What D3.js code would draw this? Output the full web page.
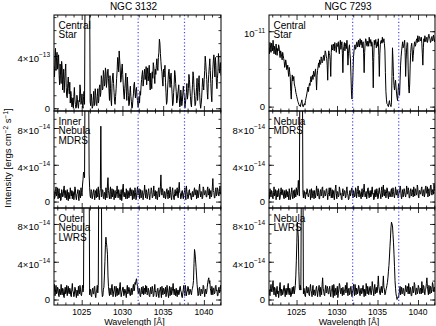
<!DOCTYPE html>
<html>
<head>
<meta charset="utf-8">
<script src="https://cdn.jsdelivr.net/npm/d3@7"></script>
<style>
  body { margin: 0; background: #fff; }
  svg { display: block; font-family: "Liberation Sans", Arial, Helvetica, sans-serif; }
</style>
</head>
<body>
<div id="chart"></div>
<script>
// wavelength grid of every spectrum: 1021.6 + i * 0.0625 A
const waveStart = 1021.6;
const waveStep = 0.0625;
const waveRange = [1021.6, 1042.1];
const oviLines = [1031.93, 1037.62];
const xMajorTicks = [1025, 1030, 1035, 1040];

// NGC 3132 central star, units of 1e-13
const star3132 = [
  3.2,2.4, 3.8,4.6, 2.9,3.9, 4.3,3.0, 3.5,4.1, 2.6,1.8, 3.4,2.5, 1.9,3.6, 3.1,1.4, 2.2,3.0, 1.2,2.1, 2.8,3.4, 1.6,0.9, 0.8,1.9, 2.4,1.5,
  1.1,2.0, 0.4,1.3, 0.9,0.1, 0.2,0.8, 0.0,0.9, 1.6,0.7, 0.3,0.0, 0.1,1.0, 0.7,0.2, 0.0,0.6, 0.5,1.8, 1.4,0.3, 0.6,1.1, 0.2,0.0, 0.9,1.3,
  0.3,9.0, 9.0,9.0, 9.0,9.0, 9.0,9.0, 9.0,9.0, 9.0,0.5, 0.2,1.1, 0.8,0.0, 0.1,0.6, 1.3,0.2, 0.4,1.5, 1.0,0.3, 0.2,0.9, 1.5,0.4, 0.6,1.6,
  1.8,0.9, 1.2,2.5, 2.2,1.4, 1.5,2.9, 2.6,1.7, 1.9,3.1, 2.8,1.6, 2.1,2.7, 3.0,2.3, 1.4,0.6, 2.5,1.5, 0.6,0.2, 1.9,2.4, 2.7,1.9, 1.2,0.5,
  0.3,0.9, 1.5,2.3, 2.9,3.9, 3.6,2.8, 4.4,3.7, 3.1,2.0, 2.2,3.0, 3.4,2.6, 1.8,1.1, 0.7,1.5, 2.0,2.7, 1.3,0.6, 2.4,1.7, 1.0,0.2, 0.3,1.2,
  1.7,0.9, 0.5,0.0, 0.1,0.7, 1.1,1.8, 2.0,1.2, 0.8,1.4, 1.6,0.9, 0.6,0.1, 0.2,0.9, 0.4,1.3, 1.0,1.7, 2.2,2.6, 2.9,1.7, 2.1,2.6, 3.0,2.2,
  2.4,3.2, 1.8,2.6, 3.1,2.1, 2.5,3.3, 2.0,1.4, 2.7,2.0, 1.5,2.8, 2.3,3.5, 3.2,2.5, 1.9,3.0, 2.6,3.3, 3.8,3.1, 2.9,3.9, 4.3,5.3, 5.0,4.2,
  3.6,3.0, 2.8,2.1, 1.7,3.0, 2.4,2.9, 3.3,2.0, 1.2,0.3, 0.5,1.4, 2.1,2.8, 3.0,2.2, 1.6,2.4, 2.7,1.8, 1.1,0.2, 0.4,1.2, 1.8,2.9, 2.6,1.9,
  1.3,0.4, 0.6,1.1, 1.4,1.8, 0.8,0.1, 0.2,1.4, 1.0,0.2, 0.5,1.1, 1.7,1.2, 0.9,0.0, 0.3,0.8, 1.2,1.9, 0.7,1.0, 1.5,2.6, 2.2,1.5, 0.9,0.3,
  0.1,1.0, 1.8,2.8, 2.5,1.6, 1.0,0.2, 0.3,0.9, 1.6,2.3, 0.6,1.3, 2.0,2.5, 1.2,0.4, 0.0,0.3, 0.8,1.6, 2.3,1.9, 1.4,2.2, 2.9,4.0, 3.5,2.8,
  2.2,1.2, 0.7,1.9, 2.6,3.2, 3.8,2.9, 1.9,1.0, 0.5,2.2, 3.0,3.7, 4.1,3.4, 2.4,3.9, 3.3,2.0, 1.5,2.3, 2.8,4.2, 3.6,2.7, 3.0,3.5, 2.5
];

// NGC 7293 central star, units of 1e-11
const star7293 = [
  0.78,0.70, 0.85,0.79, 0.72,0.84, 0.80,0.74, 0.88,0.78, 0.70,0.80, 0.76,0.69, 0.83,0.75, 0.68,0.77, 0.74,0.82, 0.79,0.70, 0.65,0.74, 0.71,0.66, 0.62,0.72, 0.68,0.64,
  0.60,0.52, 0.55,0.62, 0.58,0.49, 0.50,0.55, 0.46,0.40, 0.52,0.45, 0.40,0.20, 0.10,0.30, 0.42,0.34, 0.36,0.40, 0.30,0.27, 0.24,0.19, 0.16,0.13, 0.10,0.07, 0.05,0.03,
  0.01,0.02, 0.00,0.04, 0.06,0.09, 0.02,0.00, 0.00,0.03, 0.04,0.02, 0.08,0.11, 0.14,0.18, 0.22,0.26, 0.20,0.27, 0.31,0.28, 0.36,0.40, 0.33,0.38, 0.42,0.36, 0.47,0.44,
  0.40,0.46, 0.50,0.38, 0.22,0.41, 0.48,0.53, 0.58,0.52, 0.62,0.57, 0.56,0.66, 0.64,0.58, 0.60,0.65, 0.68,0.61, 0.66,0.74, 0.72,0.67, 0.64,0.55, 0.35,0.62, 0.74,0.70,
  0.68,0.60, 0.40,0.72, 0.82,0.77, 0.75,0.83, 0.80,0.74, 0.85,0.79, 0.78,0.72, 0.84,0.80, 0.80,0.86, 0.76,0.70, 0.82,0.88, 0.76,0.81, 0.86,0.70, 0.45,0.74, 0.80,0.85,
  0.74,0.80, 0.84,0.77, 0.88,0.75, 0.55,0.70, 0.78,0.82, 0.70,0.62, 0.40,0.18, 0.10,0.25, 0.45,0.66, 0.74,0.80, 0.82,0.76, 0.78,0.85, 0.86,0.79, 0.80,0.88, 0.84,0.79,
  0.90,0.84, 0.82,0.88, 0.78,0.83, 0.86,0.70, 0.45,0.72, 0.84,0.90, 0.88,0.81, 0.80,0.87, 0.86,0.80, 0.92,0.85, 0.84,0.89, 0.80,0.86, 0.84,0.60, 0.25,0.65, 0.88,0.82,
  0.84,0.89, 0.78,0.83, 0.86,0.80, 0.90,0.68, 0.40,0.70, 0.82,0.87, 0.88,0.84, 0.92,0.85, 0.86,0.90, 0.84,0.75, 0.45,0.20, 0.10,0.04, 0.03,0.01, 0.00,0.05, 0.08,0.03,
  0.02,0.00, 0.05,0.40, 0.78,0.62, 0.40,0.28, 0.22,0.30, 0.35,0.26, 0.18,0.12, 0.08,0.20, 0.30,0.22, 0.15,0.35, 0.55,0.66, 0.74,0.80, 0.86,0.78, 0.80,0.84, 0.88,0.72,
  0.40,0.62, 0.78,0.85, 0.84,0.50, 0.25,0.18, 0.30,0.55, 0.72,0.80, 0.84,0.75, 0.60,0.68, 0.76,0.83, 0.86,0.80, 0.82,0.88, 0.90,0.85, 0.94,0.89, 0.86,0.93, 0.92,0.87,
  0.88,0.92, 0.84,0.70, 0.55,0.78, 0.90,0.86, 0.94,0.89, 0.86,0.91, 0.92,0.85, 0.88,0.94, 0.96,0.91, 0.90,0.85, 0.86,0.92, 0.93,0.87, 0.88,0.95, 0.92,0.86, 0.89
];

// NGC 3132 inner nebula (MDRS), units of 1e-14
const inner3132 = [
  1.2,0.3, 0.5,1.1, 1.6,0.6, 0.8,1.5, 0.3,0.9, 1.4,0.4, 0.9,0.1, 0.2,1.3, 1.1,0.5, 0.6,1.4, 1.7,0.7, 0.4,1.2, 0.9,0.2, 1.3,0.6, 0.1,1.0,
  0.8,0.3, 1.5,0.9, 0.6,1.2, 0.3,1.1, 1.0,0.2, 0.7,1.6, 1.4,0.5, 0.2,0.8, 0.9,1.3, 0.5,0.1, 1.2,0.7, 0.4,1.5, 1.0,0.6, 1.8,2.4, 3.2,3.0,
  2.6,14, 14,14, 14,14, 14,14, 14,3.0, 1.5,0.6, 0.4,1.3, 1.1,0.3, 0.6,1.0, 1.3,0.7, 0.2,1.2, 0.9,0.4, 1.4,0.8, 0.5,1.6, 0.8,0.2,
  1.0,1.4, 8.2,0.5, 0.6,1.3, 1.2,0.4, 0.3,1.0, 0.9,0.2, 1.5,0.9, 0.4,1.8, 2.6,1.2, 0.7,0.3, 1.1,1.6, 0.3,0.8, 1.4,0.5, 0.8,1.3, 0.2,0.7,
  1.2,0.4, 0.6,1.1, 1.7,0.8, 0.4,1.3, 1.0,0.5, 0.2,0.9, 1.3,0.1, 0.7,1.5, 1.9,0.6, 0.5,1.0, 0.9,0.3, 1.4,0.7, 0.3,1.2, 1.1,0.4, 0.6,1.4,
  1.5,0.6, 0.8,1.3, 0.2,0.9, 1.2,0.3, 0.6,1.5, 1.0,0.2, 0.4,1.1, 1.6,0.7, 0.9,1.4, 0.3,0.8, 1.3,0.4, 0.5,1.2, 1.1,0.2, 0.7,1.0, 1.8,0.9,
  0.4,1.3, 1.0,0.3, 0.6,1.1, 1.4,0.7, 0.2,0.8, 0.9,1.5, 1.2,0.4, 0.5,1.0, 1.7,0.6, 0.8,1.2, 0.3,0.9, 1.1,0.2, 0.6,1.3, 1.5,0.5, 0.9,1.6,
  2.9,1.0, 0.7,1.4, 1.2,0.5, 0.4,1.1, 1.0,0.3, 0.6,1.3, 1.4,0.8, 0.3,1.2, 0.9,0.4, 1.6,1.0, 0.5,0.2, 1.1,1.5, 0.8,0.4, 0.2,0.9, 1.3,0.6,
  0.7,1.2, 1.5,0.6, 0.4,1.4, 2.1,1.0, 0.9,0.3, 0.5,1.1, 1.2,0.6, 0.3,0.9, 1.0,1.5, 0.6,0.2, 1.7,1.1, 0.8,0.3, 0.4,1.2, 1.3,0.7, 0.9,0.4,
  0.2,0.9, 1.1,0.5, 0.6,1.2, 1.5,0.7, 0.8,1.3, 0.3,0.6, 1.2,0.4, 0.7,1.4, 1.9,0.9, 0.5,1.1, 1.0,0.3, 0.4,1.6, 1.4,0.7, 0.8,1.2, 1.1,0.5,
  0.5,1.3, 1.6,0.7, 0.9,1.4, 0.3,0.8, 1.2,0.5, 0.7,1.6, 2.5,1.2, 1.0,0.4, 0.4,1.3, 1.5,0.6, 0.8,1.5, 1.3,0.7, 0.6,1.1, 1.7,0.8, 1.0
];

// NGC 7293 nebula (MDRS), units of 1e-14
const mdrs7293 = [
  0.9,0.3, 1.4,0.8, 0.5,1.2, 1.1,0.4, 0.3,1.0, 1.6,0.6, 0.8,1.3, 0.2,0.7, 1.2,0.5, 0.6,1.4, 1.0,0.2, 0.4,1.1, 1.5,0.8, 0.7,1.3, 1.1,0.4,
  0.3,1.2, 0.9,0.4, 1.3,0.7, 0.5,1.1, 0.8,0.2, 1.4,0.9, 0.2,0.6, 1.0,1.5, 0.6,0.3, 1.2,0.8, 0.4,1.3, 0.9,0.5, 1.5,1.0, 0.7,1.4, 2.3,1.2,
  0.6,14, 14,14, 14,14, 14,1.0, 0.4,1.2, 1.1,0.5, 0.3,1.0, 0.8,1.4, 1.3,0.6, 0.5,0.9, 1.0,1.3, 0.2,0.8, 1.4,0.4, 0.7,1.2, 0.9,0.3,
  1.2,0.7, 0.4,1.0, 1.7,0.9, 0.6,1.4, 1.0,0.3, 0.3,1.1, 1.3,0.6, 0.8,1.5, 1.6,0.4, 0.5,1.2, 1.1,0.6, 0.7,1.3, 1.4,0.9, 0.2,0.8, 1.0,1.5,
  0.6,1.1, 1.5,0.4, 0.9,1.3, 0.4,0.8, 1.2,0.2, 0.7,1.4, 1.8,0.9, 0.3,1.1, 1.0,0.5, 0.6,1.6, 1.3,0.7, 0.9,0.3, 0.2,1.0, 1.4,0.6, 0.8,1.2,
  1.1,0.4, 0.5,1.3, 1.6,0.9, 0.7,0.2, 0.3,1.0, 1.2,0.6, 0.9,1.4, 1.5,0.7, 0.4,1.2, 1.0,0.5, 0.6,1.5, 1.3,0.4, 0.8,1.1, 1.7,0.8, 0.5,1.2,
  1.0,0.6, 0.3,1.1, 1.4,0.5, 0.7,1.3, 1.9,1.0, 0.5,0.9, 1.1,0.3, 0.8,1.4, 1.5,0.7, 0.4,1.0, 1.2,0.5, 0.6,1.3, 1.6,0.8, 0.9,0.2, 0.3,1.2,
  1.3,0.5, 0.7,1.4, 1.0,0.3, 0.4,1.2, 1.5,0.9, 0.8,0.3, 1.2,1.6, 0.5,1.0, 1.8,0.7, 0.6,1.3, 1.1,0.4, 0.9,1.5, 1.4,0.6, 0.3,1.1, 1.0,0.5,
  0.6,1.2, 1.4,0.5, 0.8,1.5, 1.1,0.6, 0.4,1.0, 1.6,0.8, 0.7,1.3, 1.2,0.4, 0.5,1.1, 1.0,1.7, 1.5,0.6, 0.3,0.9, 1.3,0.5, 0.8,1.4, 1.1,0.7,
  0.5,1.0, 1.7,0.8, 0.9,1.5, 1.2,0.4, 0.4,1.1, 1.4,0.6, 0.7,1.3, 1.0,0.5, 1.6,0.9, 0.6,1.4, 1.3,0.7, 0.8,1.8, 1.5,0.6, 0.4,1.2, 1.2,0.8,
  0.9,1.4, 1.6,0.7, 0.6,1.2, 1.3,0.5, 0.8,1.5, 1.7,0.9, 1.0,1.6, 0.5,1.1, 1.4,0.6, 0.9,1.7, 1.8,1.0, 0.7,1.3, 1.2,0.8, 1.9,1.4, 1.1
];

// NGC 3132 outer nebula (LWRS), units of 1e-14
const outer3132 = [
  1.0,1.6, 0.4,0.9, 1.5,0.6, 0.7,1.3, 1.2,0.4, 0.3,1.1, 0.9,0.5, 1.6,0.8, 0.5,1.2, 1.1,0.3, 0.2,0.9, 1.3,0.6, 0.8,1.5, 0.4,1.0, 1.4,0.7,
  0.6,1.2, 1.0,0.4, 0.3,1.1, 1.7,0.9, 0.8,0.3, 0.5,1.3, 1.2,0.6, 0.2,1.0, 0.9,0.4, 1.4,0.8, 0.6,1.5, 1.1,0.5, 0.4,0.9, 1.5,0.8, 1.2,14,
  14,14, 14,14, 14,14, 14,14, 14,14, 0.5,1.1, 0.9,0.4, 0.3,1.0, 1.2,0.6, 0.6,1.3, 1.4,0.5, 0.2,0.8, 1.0,1.5, 0.7,1.5, 14,14,
  14,14, 14,14, 1.0,0.3, 0.4,1.1, 1.3,2.5, 4.0,5.8, 6.6,6.0, 5.5,4.8, 2.5,1.4, 0.8,0.4, 1.2,0.7, 0.5,1.3, 1.6,0.9, 0.3,0.8, 1.0,1.4,
  0.7,0.3, 1.4,0.8, 0.4,1.2, 1.1,0.5, 0.6,1.4, 1.8,0.9, 0.3,0.7, 0.9,1.3, 1.3,0.4, 0.5,1.1, 1.0,0.6, 0.2,1.0, 1.5,0.6, 0.8,1.3, 1.1,0.5,
  0.4,1.0, 1.2,0.5, 0.7,1.3, 1.6,0.9, 1.0,1.8, 1.6,2.0, 2.2,1.7, 1.4,0.8, 0.6,1.2, 1.1,0.4, 0.3,0.9, 1.3,0.6, 0.8,1.4, 0.5,1.0, 1.2,0.6,
  1.5,0.8, 1.4,0.5, 0.6,1.2, 1.0,0.4, 0.3,0.9, 1.3,0.6, 0.7,1.4, 1.1,0.3, 0.4,1.0, 1.6,0.8, 0.9,0.3, 0.5,1.1, 1.2,0.6, 0.2,0.9, 1.0,1.3,
  0.7,0.2, 1.4,0.9, 0.5,1.2, 1.1,0.6, 0.8,1.3, 0.3,0.7, 1.5,1.0, 0.6,0.2, 1.0,1.4, 0.4,0.9, 1.3,0.5, 0.8,1.2, 1.7,0.9, 0.5,1.1, 0.9,0.4,
  1.2,0.6, 0.3,1.0, 1.0,0.5, 0.6,1.3, 1.4,0.9, 0.8,0.3, 0.2,0.7, 1.1,1.5, 0.7,0.4, 1.5,1.0, 0.4,0.8, 0.9,1.4, 1.3,0.5, 0.6,1.1, 1.0,0.7,
  0.5,1.0, 1.2,1.5, 2.0,3.8, 5.3,4.9, 4.2,3.4, 2.5,1.6, 1.0,0.4, 0.6,1.2, 1.3,0.5, 0.4,1.1, 1.0,0.6, 0.7,1.5, 1.4,0.8, 0.3,0.9, 1.1,0.6,
  0.8,1.3, 1.8,2.1, 2.3,1.7, 2.0,1.2, 0.9,0.5, 1.4,1.0, 0.5,1.2, 1.2,0.6, 0.7,1.4, 1.5,0.9, 1.0,0.4, 0.4,1.1, 1.3,0.7, 0.8,1.5, 1.1
];

// NGC 7293 nebula (LWRS), units of 1e-14
const lwrs7293 = [
  1.1,0.6, 0.4,1.2, 1.6,0.9, 0.8,1.5, 2.0,1.0, 0.5,1.3, 1.2,0.4, 0.3,1.0, 1.4,0.6, 0.9,0.2, 0.6,1.4, 1.8,0.8, 0.4,1.1, 1.0,0.5, 0.7,1.3,
  1.5,0.9, 0.3,1.1, 1.2,0.5, 0.8,1.3, 1.7,0.7, 0.5,1.2, 1.0,0.3, 0.4,0.9, 1.3,0.6, 0.9,1.4, 0.6,1.0, 1.5,2.5, 4.1,6.0, 8.2,7.4, 6.5,3.0,
  1.2,1.0, 1.5,1.0, 14,14, 14,14, 0.6,1.2, 0.9,0.4, 0.3,1.0, 1.4,0.7, 0.7,1.3, 1.1,0.5, 0.4,1.2, 1.6,0.9, 0.8,0.3, 1.2,1.5, 0.5,1.0,
  1.0,0.4, 0.6,1.2, 1.4,0.8, 0.3,0.9, 1.1,1.5, 0.7,0.3, 1.3,1.0, 0.5,1.6, 2.3,1.2, 0.9,0.5, 0.4,1.1, 1.5,0.7, 0.8,1.4, 1.2,0.6, 0.6,1.1,
  1.4,0.7, 0.3,1.0, 1.0,1.5, 0.7,0.2, 1.6,1.1, 0.4,0.9, 1.2,0.5, 0.8,1.4, 0.2,0.6, 1.1,1.7, 1.5,0.8, 0.6,1.2, 0.9,0.4, 1.3,0.9, 0.5,1.0,
  1.0,1.5, 0.7,1.1, 1.8,0.9, 0.4,1.0, 1.2,0.5, 0.6,1.3, 1.4,0.7, 0.3,0.9, 1.0,1.6, 0.8,0.4, 1.6,1.1, 0.5,1.2, 1.1,0.6, 0.9,1.5, 1.3,0.6,
  0.4,1.0, 1.2,0.6, 0.7,1.3, 1.5,0.8, 0.3,1.1, 1.0,0.4, 1.7,1.2, 0.6,1.4, 1.1,0.5, 0.8,1.3, 1.4,0.7, 0.5,1.0, 1.9,1.3, 0.9,0.4, 1.2,1.6,
  0.6,1.1, 1.3,0.7, 0.8,1.6, 2.5,1.4, 1.0,0.6, 0.5,1.2, 1.4,0.8, 0.7,1.5, 2.5,1.3, 1.1,0.5, 0.6,1.0, 1.2,1.5, 1.8,2.3, 3.0,3.6, 4.5,5.6,
  6.5,7.6, 8.2,8.0, 7.8,6.9, 6.0,4.8, 3.5,2.0, 1.2,0.6, 0.3,0.0, 0.1,0.3, 0.2,0.6, 1.0,1.4, 0.5,0.9, 1.3,0.6, 0.7,1.2, 1.1,0.5, 0.4,1.0,
  1.5,0.9, 0.8,1.4, 1.2,0.6, 1.7,1.0, 0.6,1.3, 1.0,0.4, 0.4,1.1, 1.4,0.7, 0.9,1.8, 1.6,0.8, 0.5,1.2, 1.2,0.6, 0.8,1.5, 1.3,0.9, 0.6,1.2,
  1.1,0.6, 1.9,1.2, 0.7,1.5, 1.4,0.8, 0.5,1.1, 1.2,1.7, 2.3,1.4, 0.9,0.5, 1.5,1.1, 0.6,1.4, 1.3,0.7, 1.0,1.8, 1.6,1.0, 0.8,1.3, 1.2
];

// y tick labels: value, mantissa text, exponent
const yTicks3132Star = [[0, "0", null], [4, "4×10", "−13"]];
const yTicks7293Star = [[0, "0", null], [1, "10", "−11"]];
const yTicksNebula = [[0, "0", null], [4, "4×10", "−14"], [8, "8×10", "−14"]];

const width = 436, height = 326;
const columns = [
  { title: "NGC 3132", left: 54, right: 221 },
  { title: "NGC 7293", left: 269, right: 435 }
];
const rows = [
  { top: 15, bottom: 111 },
  { top: 111, bottom: 208 },
  { top: 208, bottom: 305 }
];

const panels = [
  { col: 0, row: 0, values: star3132, domain: [-0.21, 7.16], ticks: yTicks3132Star, minor: 1, label: ["Central", "Star"] },
  { col: 1, row: 0, values: star7293, domain: [-0.058, 1.215], ticks: yTicks7293Star, minor: 0.25, label: ["Central", "Star"] },
  { col: 0, row: 1, values: inner3132, domain: [-0.70, 9.85], ticks: yTicksNebula, minor: 1, label: ["Inner", "Nebula", "MDRS"] },
  { col: 1, row: 1, values: mdrs7293, domain: [-0.70, 9.85], ticks: yTicksNebula, minor: 1, label: ["Nebula", "MDRS"] },
  { col: 0, row: 2, values: outer3132, domain: [-0.58, 9.69], ticks: yTicksNebula, minor: 1, label: ["Outer", "Nebula", "LWRS"] },
  { col: 1, row: 2, values: lwrs7293, domain: [-0.58, 9.69], ticks: yTicksNebula, minor: 1, label: ["Nebula", "LWRS"] }
];

const svg = d3.select("#chart")
    .append("svg")
    .attr("width", width)
    .attr("height", height);

const xMinorTicks = d3.range(1022, 1042.01, 1).filter(v => !xMajorTicks.includes(v));

// draws tick marks only (no text, no domain line)
function tickMarks(g, axis, values, size) {
    g.call(axis.tickValues(values).tickSize(size).tickFormat(""))
     .call(s => s.select(".domain").remove())
     .call(s => s.selectAll("line").attr("stroke", "#000").attr("stroke-width", 0.8));
}

panels.forEach((p, k) => {
    const col = columns[p.col], row = rows[p.row];
    const x = d3.scaleLinear().domain(waveRange).range([col.left, col.right]);
    const y = d3.scaleLinear().domain(p.domain).range([row.bottom, row.top]);
    const g = svg.append("g");

    g.append("clipPath").attr("id", "clip" + k)
      .append("rect")
      .attr("x", col.left).attr("y", row.top)
      .attr("width", col.right - col.left).attr("height", row.bottom - row.top);

    const line = d3.line()
        .x((d, i) => x(waveStart + i * waveStep))
        .y(d => y(d));

    g.append("path")
        .datum(p.values)
        .attr("clip-path", "url(#clip" + k + ")")
        .attr("fill", "none")
        .attr("stroke", "#000")
        .attr("stroke-width", 1)
        .attr("d", line);

    g.selectAll(".ovi")
        .data(oviLines)
        .enter().append("line")
        .attr("x1", d => x(d)).attr("x2", d => x(d))
        .attr("y1", row.top).attr("y2", row.bottom)
        .attr("stroke", "#4848f0")
        .attr("stroke-width", 1.2)
        .attr("stroke-dasharray", "1.2,2.2");

    // inward ticks on all four sides
    const yMinor = d3.range(0, p.domain[1], p.minor);
    const yMajor = p.ticks.map(t => t[0]);
    tickMarks(g.append("g").attr("transform", `translate(0,${row.bottom})`), d3.axisTop(x), xMajorTicks, 5);
    tickMarks(g.append("g").attr("transform", `translate(0,${row.bottom})`), d3.axisTop(x), xMinorTicks, 2.5);
    tickMarks(g.append("g").attr("transform", `translate(0,${row.top})`), d3.axisBottom(x), xMajorTicks, 5);
    tickMarks(g.append("g").attr("transform", `translate(0,${row.top})`), d3.axisBottom(x), xMinorTicks, 2.5);
    tickMarks(g.append("g").attr("transform", `translate(${col.left},0)`), d3.axisRight(y), yMajor, 5);
    tickMarks(g.append("g").attr("transform", `translate(${col.left},0)`), d3.axisRight(y), yMinor, 2.5);
    tickMarks(g.append("g").attr("transform", `translate(${col.right},0)`), d3.axisLeft(y), yMajor, 5);
    tickMarks(g.append("g").attr("transform", `translate(${col.right},0)`), d3.axisLeft(y), yMinor, 2.5);

    g.append("rect")
        .attr("x", col.left).attr("y", row.top)
        .attr("width", col.right - col.left).attr("height", row.bottom - row.top)
        .attr("fill", "none")
        .attr("stroke", "#000")
        .attr("stroke-width", 1);

    // y tick labels with superscript exponents
    p.ticks.forEach(t => {
        const txt = g.append("text")
            .attr("x", col.left - 4)
            .attr("y", y(t[0]) + (t[2] ? 5.8 : 3.4))
            .attr("text-anchor", "end")
            .attr("font-size", 9.5)
            .text(t[1]);
        if (t[2]) {
            txt.append("tspan").attr("dy", -4.5).attr("font-size", 6.5).text(t[2]);
        }
    });

    g.selectAll(".plabel")
        .data(p.label)
        .enter().append("text")
        .attr("x", col.left + 4.5)
        .attr("y", (d, i) => row.top + 13.5 + i * 9.8)
        .attr("font-size", 10)
        .text(d => d);

    if (p.row === 0) {
        svg.append("text")
            .attr("x", (col.left + col.right) / 2 - 4)
            .attr("y", 10)
            .attr("text-anchor", "middle")
            .attr("font-size", 10)
            .text(col.title);
    }
    if (p.row === 2) {
        g.selectAll(".xlabel")
            .data(xMajorTicks)
            .enter().append("text")
            .attr("x", d => x(d))
            .attr("y", 315)
            .attr("text-anchor", "middle")
            .attr("font-size", 8.5)
            .text(d => d);
        g.append("text")
            .attr("x", (col.left + col.right) / 2 - 3)
            .attr("y", 325)
            .attr("text-anchor", "middle")
            .attr("font-size", 9)
            .text("Wavelength [Å]");
    }
});

// y axis title
const yTitle = svg.append("text")
    .attr("transform", "translate(11,158) rotate(-90)")
    .attr("text-anchor", "middle")
    .attr("font-size", 9.5);
yTitle.append("tspan").text("Intensity [ergs cm");
yTitle.append("tspan").attr("dy", -3.5).attr("font-size", 6.5).text("−2");
yTitle.append("tspan").attr("dy", 3.5).text(" s");
yTitle.append("tspan").attr("dy", -3.5).attr("font-size", 6.5).text("−1");
yTitle.append("tspan").attr("dy", 3.5).text("]");
</script>
</body>
</html>
